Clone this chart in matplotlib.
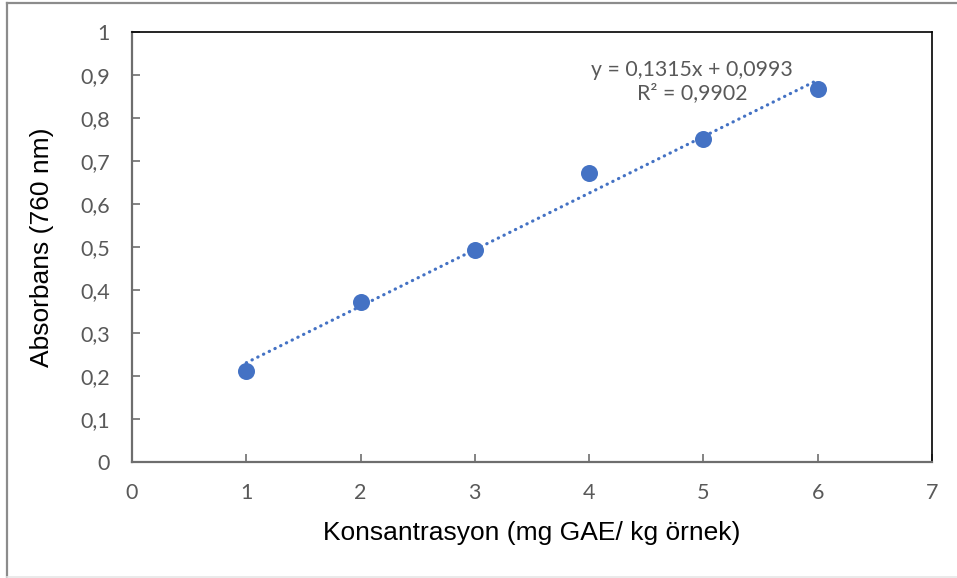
import matplotlib.pyplot as plt
from matplotlib.lines import Line2D
from matplotlib.ticker import FuncFormatter, MultipleLocator

# calibration points
concentration = [1, 2, 3, 4, 5, 6]
absorbance = [0.211, 0.371, 0.492, 0.671, 0.751, 0.867]

# linear trendline as reported on the chart
slope = 0.1315
intercept = 0.0993
r_squared = 0.9902

W, H = 957, 578
fig = plt.figure(figsize=(W / 100, H / 100), dpi=100)

# plot area in pixels: left 132, right 932, top 32, bottom 462
ax = fig.add_axes([132 / W, 1 - 462 / H, 800 / W, 430 / H])

blue = '#4472C4'
tick_grey = '#595959'

ax.scatter(concentration, absorbance, s=150, color=blue, zorder=3,
           linewidths=0)

x_fit = [concentration[0], concentration[-1]]
y_fit = [slope * x + intercept for x in x_fit]
ax.plot(x_fit, y_fit, color=blue, lw=2.3, linestyle=(0, (0.1, 1.9)),
        dash_capstyle='round', zorder=2)

ax.set_xlim(0, 7)
ax.set_ylim(0, 1)
ax.xaxis.set_major_locator(MultipleLocator(1))
ax.yaxis.set_major_locator(MultipleLocator(0.1))


def comma(v, _pos):
    s = f'{v:.1f}'.rstrip('0').rstrip('.')
    return s.replace('.', ',')


ax.xaxis.set_major_formatter(FuncFormatter(comma))
ax.yaxis.set_major_formatter(FuncFormatter(comma))

for side in ('left', 'bottom'):
    ax.spines[side].set_color('#6e6e6e')
    ax.spines[side].set_linewidth(1.6)
for side in ('top', 'right'):
    ax.spines[side].set_color('black')
    ax.spines[side].set_linewidth(1.2)

ax.tick_params(direction='in', length=6, width=1.2, color='#6e6e6e',
               labelcolor=tick_grey, labelsize=15.5)
ax.tick_params(axis='x', pad=15)
ax.tick_params(axis='y', pad=16)
for lbl in ax.get_xticklabels() + ax.get_yticklabels():
    lbl.set_family('Lato')

ax.set_xlabel('Konsantrasyon (mg GAE/ kg örnek)', family='Liberation Sans',
              fontsize=19, color='black', labelpad=13)
ax.set_ylabel('Absorbans (760 nm)', family='Liberation Sans',
              fontsize=19, color='black', labelpad=19)

eq = f'y = {slope:.4f}x + {intercept:.4f}'.replace('.', ',')
r2 = f'R² = {r_squared:.4f}'.replace('.', ',')
ax.text(4.9, 0.884, eq + '\n' + r2, ha='center', va='center',
        family='Lato', fontsize=15.3, color=tick_grey, linespacing=1.2)

# outer frame of the chart object
fig.add_artist(Line2D([6.5 / W, 6.5 / W], [0, 1 - 3 / H], color='#8c8c8c', lw=1.6))
fig.add_artist(Line2D([6.5 / W, 1], [1 - 3 / H, 1 - 3 / H], color='#8c8c8c', lw=1.6))
fig.add_artist(Line2D([6.5 / W, 1], [1 - 577 / H, 1 - 577 / H], color='#e6e6e6', lw=1.2))

fig.savefig('out.png', dpi=100)
